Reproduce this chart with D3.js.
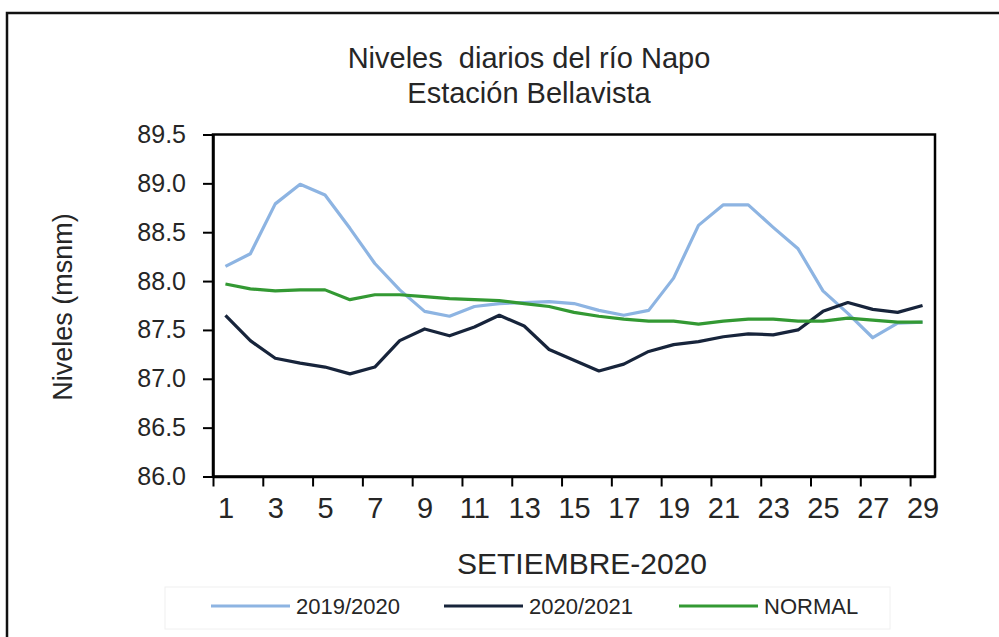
<!DOCTYPE html>
<html>
<head>
<meta charset="utf-8">
<script src="https://cdn.jsdelivr.net/npm/d3@7"></script>
<style>
  body { margin: 0; background: #fff; }
  svg text { font-family: "Liberation Sans", Arial, sans-serif; fill: #262626; }
</style>
</head>
<body>
<div id="chart"></div>
<script>
const days = d3.range(1, 30);
const dayLabels = [1, 3, 5, 7, 9, 11, 13, 15, 17, 19, 21, 23, 25, 27, 29];
const yTicks = [86.0, 86.5, 87.0, 87.5, 88.0, 88.5, 89.0, 89.5];
const seriesNames = ["2019/2020", "2020/2021", "NORMAL"];
const s2019 = [88.15, 88.28, 88.79, 88.99, 88.88, 88.54, 88.18, 87.91, 87.69, 87.64,
               87.74, 87.77, 87.78, 87.79, 87.77, 87.70, 87.65, 87.70, 88.03, 88.57,
               88.78, 88.78, 88.55, 88.33, 87.90, 87.67, 87.42, 87.57, 87.58];
const s2020 = [87.65, 87.39, 87.21, 87.16, 87.12, 87.05, 87.12, 87.39, 87.51, 87.44,
               87.53, 87.65, 87.54, 87.30, 87.19, 87.08, 87.15, 87.28, 87.35, 87.38,
               87.43, 87.46, 87.45, 87.50, 87.69, 87.78, 87.71, 87.68, 87.75];
const normal = [87.97, 87.92, 87.90, 87.91, 87.91, 87.81, 87.86, 87.86, 87.84, 87.82,
                87.81, 87.80, 87.77, 87.74, 87.68, 87.64, 87.61, 87.59, 87.59, 87.56,
                87.59, 87.61, 87.61, 87.59, 87.59, 87.62, 87.60, 87.58, 87.58];
const colors = ["#8db4e2", "#17243b", "#339933"];

const width = 999, height = 637;
const plot = { left: 213, right: 935, top: 134.5, bottom: 476.5 };

const svg = d3.select("#chart").append("svg")
  .attr("width", width)
  .attr("height", height);

// outer frame
svg.append("rect")
  .attr("x", 7).attr("y", 13)
  .attr("width", 1010).attr("height", 650)
  .attr("fill", "none")
  .attr("stroke", "#111")
  .attr("stroke-width", 2.5);

// scales
let x = d3.scaleLinear().domain([0.5, 29.5]).range([plot.left, plot.right]);
let y = d3.scaleLinear().domain([86, 89.5]).range([plot.bottom, plot.top]);

// title
svg.append("text")
  .attr("x", 529).attr("y", 68)
  .attr("text-anchor", "middle")
  .style("font-size", "29px")
  .style("white-space", "pre")
  .text("Niveles  diarios del río Napo");
svg.append("text")
  .attr("x", 529).attr("y", 103)
  .attr("text-anchor", "middle")
  .style("font-size", "29px")
  .text("Estación Bellavista");

// lines
let line = d3.line()
  .x((d, i) => x(days[i]))
  .y(d => y(d));

[s2019, s2020, normal].forEach((vals, k) => {
  svg.append("path")
    .attr("d", line(vals))
    .attr("fill", "none")
    .attr("stroke", colors[k])
    .attr("stroke-width", 3.2)
    .attr("stroke-linejoin", "round");
});

// plot box
svg.append("rect")
  .attr("x", plot.left).attr("y", plot.top)
  .attr("width", plot.right - plot.left).attr("height", plot.bottom - plot.top)
  .attr("fill", "none")
  .attr("stroke", "#000")
  .attr("stroke-width", 2.5);

// y axis
let yAxis = svg.append("g")
  .attr("transform", "translate(" + plot.left + ",0)")
  .call(d3.axisLeft(y).tickValues(yTicks).tickFormat(d3.format(".1f")).tickSize(10).tickSizeOuter(0).tickPadding(17));
yAxis.select(".domain").attr("stroke-width", 2.5);
yAxis.selectAll(".tick line").attr("stroke-width", 2);
yAxis.selectAll(".tick text").style("font-size", "25px").attr("fill", "#262626");

// x axis: tick marks on category boundaries, labels on odd days
let xTickAxis = svg.append("g")
  .attr("transform", "translate(0," + plot.bottom + ")")
  .call(d3.axisBottom(x).tickValues(dayLabels.map(d => d - 0.5)).tickFormat("").tickSize(10).tickSizeOuter(0));
xTickAxis.select(".domain").attr("stroke-width", 2.5);
xTickAxis.selectAll(".tick line").attr("stroke-width", 2);

let xLabelAxis = svg.append("g")
  .attr("transform", "translate(0," + plot.bottom + ")")
  .call(d3.axisBottom(x).tickValues(dayLabels).tickSize(0).tickPadding(21));
xLabelAxis.select(".domain").remove();
xLabelAxis.selectAll(".tick text").style("font-size", "29px").attr("fill", "#262626");

// axis titles
svg.append("text")
  .attr("x", 582).attr("y", 574)
  .attr("text-anchor", "middle")
  .style("font-size", "30px")
  .text("SETIEMBRE-2020");

svg.append("text")
  .attr("transform", "translate(72,307) rotate(-90)")
  .attr("text-anchor", "middle")
  .style("font-size", "27px")
  .text("Niveles (msnm)");

// legend
svg.append("rect")
  .attr("x", 165).attr("y", 587)
  .attr("width", 725).attr("height", 42)
  .attr("fill", "none")
  .attr("stroke", "#f0f0f0");

const legendX = [211, 444, 679];
seriesNames.forEach((name, k) => {
  let g = svg.append("g").attr("transform", "translate(" + legendX[k] + ",606)");
  g.append("line")
    .attr("x1", 0).attr("x2", 79)
    .attr("stroke", colors[k])
    .attr("stroke-width", 3.2);
  g.append("text")
    .attr("x", 85).attr("y", 8)
    .style("font-size", "22px")
    .text(name);
});
</script>
</body>
</html>
